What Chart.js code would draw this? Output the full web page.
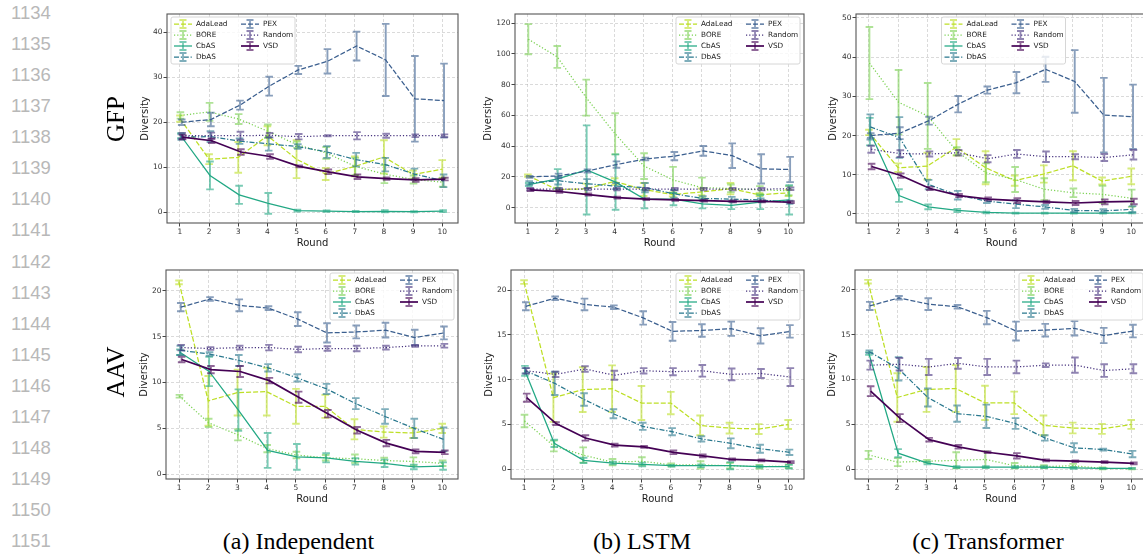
<!DOCTYPE html>
<html>
<head>
<meta charset="utf-8">
<script src="https://cdn.jsdelivr.net/npm/chart.js@4.4.1/dist/chart.umd.min.js"></script>
<style>
  body { margin: 0; background: #fff; }
  #fig { position: relative; width: 1143px; height: 558px; overflow: hidden; background: #fff; }
  #fig canvas { position: absolute; }
  .lineno { position: absolute; left: 11px; font: 18.5px "Liberation Sans", Arial, sans-serif; color: #b8b8b8; line-height: 20px; }
  .rowlab { position: absolute; font: 25px "Liberation Serif", "Times New Roman", serif; color: #000;
            line-height: 28px; white-space: nowrap; transform: translate(-50%, -50%) rotate(-90deg); }
  .cap { position: absolute; font: 24px "Liberation Serif", "Times New Roman", serif; color: #000;
         line-height: 28px; white-space: nowrap; transform: translate(-50%, -50%); }
</style>
</head>
<body>
<div id="fig"></div>
<script>
// ------------------------------------------------------------------
// Data: mean diversity and std per round, per method
// ------------------------------------------------------------------
const ROUNDS = [1, 2, 3, 4, 5, 6, 7, 8, 9, 10];
const METHODS = ["AdaLead", "BORE", "CbAS", "DbAS", "PEX", "Random", "VSD"];

// AdaLead and PEX do not depend on the generator, same curves in every column
const adaleadGfpMean = [20.8, 11.8, 12.2, 17.0, 11.8, 8.5, 10.2, 12.3, 8.4, 9.6];
const adaleadGfpStd  = [0.7, 1.1, 3.4, 2.1, 4.2, 1.3, 2.2, 3.7, 0.9, 2.0];
const pexGfpMean     = [20.0, 20.6, 23.8, 28.0, 31.6, 33.5, 36.9, 33.8, 25.2, 24.8];
const pexGfpStd      = [0.6, 1.5, 1.0, 2.1, 0.9, 2.7, 3.2, 8.0, 9.5, 8.2];
const adaleadAavMean = [20.9, 8.0, 8.9, 9.0, 7.4, 7.4, 4.9, 4.6, 4.5, 5.0];
const adaleadAavStd  = [0.2, 2.7, 2.5, 2.6, 1.9, 1.25, 1.1, 0.6, 0.55, 0.5];
const pexAavMean     = [18.2, 19.1, 18.4, 18.1, 16.9, 15.4, 15.5, 15.7, 14.9, 15.4];
const pexAavStd      = [0.45, 0.2, 0.65, 0.2, 0.75, 1.05, 0.7, 0.8, 0.85, 0.7];

// GFP, independent generator
const boreGfpIndMean   = [21.5, 22.3, 20.7, 18.0, 15.0, 13.2, 10.2, 8.5, 7.3, 6.7];
const boreGfpIndStd    = [0.7, 2.0, 1.1, 1.5, 0.7, 1.3, 1.9, 2.0, 0.9, 1.0];
const cbasGfpIndMean   = [17.0, 8.2, 3.9, 2.0, 0.4, 0.3, 0.2, 0.25, 0.15, 0.3];
const cbasGfpIndStd    = [0.55, 3.1, 2.0, 2.3, 0.2, 0.15, 0.1, 0.25, 0.1, 0.2];
const dbasGfpIndMean   = [16.7, 16.8, 15.8, 15.2, 14.6, 13.4, 11.7, 10.6, 8.5, 7.0];
const dbasGfpIndStd    = [0.6, 1.2, 0.6, 1.5, 0.5, 1.3, 1.5, 1.5, 1.2, 1.4];
const randomGfpIndMean = [17.0, 17.0, 17.0, 17.1, 16.8, 17.0, 17.0, 17.0, 17.0, 17.0];
const randomGfpIndStd  = [0.6, 0.7, 0.9, 0.5, 0.6, 0.1, 0.8, 0.45, 0.3, 0.3];
const vsdGfpIndMean    = [16.7, 15.9, 13.4, 12.4, 10.2, 9.0, 7.9, 7.5, 7.2, 7.4];
const vsdGfpIndStd     = [0.5, 0.5, 0.6, 0.5, 0.2, 0.5, 0.5, 0.25, 0.4, 0.3];

// GFP, LSTM generator
const boreGfpLstmMean   = [109.5, 98.0, 71.5, 48.0, 27.0, 18.0, 13.0, 12.5, 11.5, 11.0];
const boreGfpLstmStd    = [9.8, 7.1, 11.7, 13.4, 8.4, 8.5, 6.5, 2.5, 2.5, 3.0];
const cbasGfpLstmMean   = [15.0, 18.7, 24.5, 16.6, 5.5, 5.5, 2.5, 1.5, 3.5, 5.0];
const cbasGfpLstmStd    = [1.0, 6.3, 29.0, 18.0, 6.0, 4.0, 3.0, 2.5, 4.5, 9.5];
const dbasGfpLstmMean   = [16.0, 17.5, 15.5, 14.0, 13.0, 9.0, 6.0, 5.5, 5.0, 3.5];
const dbasGfpLstmStd    = [1.2, 2.5, 3.0, 2.0, 3.0, 2.5, 1.5, 1.5, 1.0, 1.0];
const randomGfpLstmMean = [12.0, 12.0, 12.0, 12.0, 12.0, 12.0, 12.0, 12.0, 12.0, 12.3];
const randomGfpLstmStd  = [0.8, 0.8, 0.8, 0.8, 0.8, 0.8, 0.8, 0.8, 0.8, 0.8];
const vsdGfpLstmMean    = [11.5, 10.5, 8.5, 6.5, 5.5, 5.0, 4.5, 4.0, 4.0, 3.5];
const vsdGfpLstmStd     = [0.8, 0.8, 0.7, 0.6, 0.6, 0.6, 0.6, 0.6, 0.6, 0.6];

// GFP, transformer generator
const boreGfpTrfMean   = [38.5, 28.5, 25.0, 16.0, 10.5, 8.8, 6.3, 5.4, 5.0, 4.0];
const boreGfpTrfStd    = [9.2, 8.2, 8.4, 1.0, 2.4, 3.2, 2.8, 1.1, 2.2, 2.2];
const cbasGfpTrfMean   = [21.0, 4.7, 1.8, 0.9, 0.4, 0.2, 0.2, 0.2, 0.2, 0.3];
const cbasGfpTrfStd    = [3.5, 1.6, 0.6, 0.4, 0.2, 0.1, 0.1, 0.1, 0.1, 0.15];
const dbasGfpTrfMean   = [22.2, 19.5, 7.5, 4.8, 3.3, 2.5, 1.8, 0.9, 0.8, 1.2];
const dbasGfpTrfStd    = [3.2, 5.2, 1.2, 1.1, 0.5, 1.0, 0.5, 0.4, 0.4, 0.8];
const randomGfpTrfMean = [16.5, 15.4, 15.3, 15.6, 14.1, 15.3, 14.6, 14.6, 14.4, 15.1];
const randomGfpTrfStd  = [0.9, 0.85, 0.65, 0.7, 0.9, 1.0, 1.35, 0.65, 0.9, 1.2];
const vsdGfpTrfMean    = [12.1, 9.8, 6.5, 4.7, 3.8, 3.4, 3.1, 2.8, 3.1, 3.2];
const vsdGfpTrfStd     = [0.7, 0.55, 0.4, 0.4, 0.4, 0.6, 0.3, 0.5, 0.6, 0.7];

// AAV, independent generator
const boreAavIndMean   = [8.5, 5.6, 4.3, 2.8, 2.1, 1.8, 1.7, 1.5, 1.4, 1.2];
const boreAavIndStd    = [0.15, 0.45, 0.6, 0.4, 0.35, 0.3, 0.45, 0.3, 0.45, 0.3];
const cbasAavIndMean   = [13.3, 11.2, 7.0, 2.6, 1.9, 1.8, 1.4, 1.2, 0.8, 0.9];
const cbasAavIndStd    = [0.3, 1.6, 2.25, 1.9, 1.4, 0.5, 0.35, 0.4, 0.25, 0.4];
const dbasAavIndMean   = [13.5, 13.1, 12.4, 11.6, 10.5, 9.3, 7.7, 6.3, 5.0, 3.8];
const dbasAavIndStd    = [0.5, 0.2, 0.6, 0.4, 0.4, 0.55, 0.6, 0.8, 1.05, 1.3];
const randomAavIndMean = [13.8, 13.7, 13.8, 13.8, 13.6, 13.7, 13.7, 13.8, 14.0, 14.0];
const randomAavIndStd  = [0.3, 0.15, 0.2, 0.3, 0.3, 0.25, 0.3, 0.2, 0.1, 0.2];
const vsdAavIndMean    = [12.5, 11.4, 11.2, 10.2, 8.4, 6.6, 4.8, 3.4, 2.5, 2.4];
const vsdAavIndStd     = [0.3, 0.4, 0.6, 0.3, 0.6, 0.4, 0.35, 0.35, 0.2, 0.2];

// AAV, LSTM generator
const boreAavLstmMean   = [5.4, 2.6, 1.6, 0.8, 0.9, 0.5, 0.5, 0.4, 0.3, 0.35];
const boreAavLstmStd    = [0.7, 0.6, 0.85, 0.35, 0.45, 0.15, 0.4, 0.3, 0.2, 0.2];
const cbasAavLstmMean   = [11.0, 2.9, 1.0, 0.7, 0.55, 0.4, 0.4, 0.4, 0.3, 0.3];
const cbasAavLstmStd    = [0.55, 0.4, 0.3, 0.15, 0.2, 0.1, 0.15, 0.4, 0.1, 0.2];
const dbasAavLstmMean   = [11.0, 9.6, 7.8, 6.2, 4.8, 4.2, 3.4, 2.9, 2.3, 1.9];
const dbasAavLstmStd    = [0.3, 1.3, 0.7, 0.5, 0.4, 0.4, 0.3, 0.55, 0.45, 0.3];
const randomAavLstmMean = [11.0, 10.6, 11.2, 10.5, 11.0, 10.9, 11.0, 10.6, 10.7, 10.3];
const randomAavLstmStd  = [0.3, 0.3, 0.3, 0.5, 0.3, 0.4, 0.65, 0.65, 0.5, 1.0];
const vsdAavLstmMean    = [8.0, 5.1, 3.5, 2.7, 2.5, 1.9, 1.5, 1.1, 1.0, 0.8];
const vsdAavLstmStd     = [0.45, 0.15, 0.3, 0.15, 0.1, 0.2, 0.15, 0.1, 0.1, 0.1];

// AAV, transformer generator
const boreAavTrfMean   = [1.6, 0.8, 0.9, 1.0, 1.1, 0.4, 0.3, 0.4, 0.1, 0.05];
const boreAavTrfStd    = [0.45, 0.45, 0.15, 0.9, 0.9, 0.3, 0.15, 0.2, 0.1, 0.05];
const cbasAavTrfMean   = [12.9, 1.8, 0.7, 0.25, 0.25, 0.25, 0.25, 0.15, 0.1, 0.1];
const cbasAavTrfStd    = [0.15, 0.45, 0.15, 0.1, 0.1, 0.1, 0.1, 0.1, 0.05, 0.05];
const dbasAavTrfMean   = [13.1, 11.2, 8.0, 6.2, 5.9, 5.1, 3.5, 2.4, 2.2, 1.7];
const dbasAavTrfStd    = [0.15, 1.3, 1.0, 0.9, 1.3, 0.6, 0.3, 0.5, 0.1, 0.35];
const randomAavTrfMean = [11.6, 11.7, 11.4, 11.8, 11.4, 11.4, 11.6, 11.6, 11.0, 11.2];
const randomAavTrfStd  = [0.5, 0.7, 0.9, 0.6, 0.9, 0.7, 0.2, 0.85, 0.7, 0.5];
const vsdAavTrfMean    = [8.7, 5.7, 3.3, 2.5, 1.9, 1.5, 1.0, 0.9, 0.8, 0.65];
const vsdAavTrfStd     = [0.55, 0.45, 0.2, 0.2, 0.1, 0.3, 0.1, 0.1, 0.1, 0.1];

// y tick labels
const gfpIndTicks  = [0, 10, 20, 30, 40];
const gfpLstmTicks = [0, 20, 40, 60, 80, 100, 120];
const gfpTrfTicks  = [0, 10, 20, 30, 40, 50];
const aavTicks     = [0, 5, 10, 15, 20];

// ------------------------------------------------------------------
// Styles
// ------------------------------------------------------------------
const COLORS = ["#bddf26", "#7ad151", "#22a884", "#2a788e", "#3b5f8f", "#46327e", "#440154"];
const DASHES = [[5, 2], [1.2, 2], [], [5, 1.8, 1.2, 1.8], [5, 2], [1.2, 2], []];
const WIDTHS = [1.25, 1.25, 1.25, 1.25, 1.25, 1.25, 1.7];
const FONT = "'DejaVu Sans', Verdana, sans-serif";
const SHIFT = 0.015;       // small dodge so error bars do not sit on top of each other
const AXW = 44, AXH = 30, PT = 6, PR = 4;

const PANELS = [
  { frame: [167, 14, 458, 223], yMin: -2.35, yMax: 44, yTicks: gfpIndTicks, gap: 21.7, legend: "left",
    means: [adaleadGfpMean, boreGfpIndMean, cbasGfpIndMean, dbasGfpIndMean, pexGfpMean, randomGfpIndMean, vsdGfpIndMean],
    stds:  [adaleadGfpStd, boreGfpIndStd, cbasGfpIndStd, dbasGfpIndStd, pexGfpStd, randomGfpIndStd, vsdGfpIndStd] },
  { frame: [515, 14, 804, 223], yMin: -10, yMax: 125.9, yTicks: gfpLstmTicks, gap: 26.3, legend: "right",
    means: [adaleadGfpMean, boreGfpLstmMean, cbasGfpLstmMean, dbasGfpLstmMean, pexGfpMean, randomGfpLstmMean, vsdGfpLstmMean],
    stds:  [adaleadGfpStd, boreGfpLstmStd, cbasGfpLstmStd, dbasGfpLstmStd, pexGfpStd, randomGfpLstmStd, vsdGfpLstmStd] },
  { frame: [856, 14, 1147, 223], yMin: -2.3, yMax: 51, yTicks: gfpTrfTicks, gap: 22.4, legend: "center",
    means: [adaleadGfpMean, boreGfpTrfMean, cbasGfpTrfMean, dbasGfpTrfMean, pexGfpMean, randomGfpTrfMean, vsdGfpTrfMean],
    stds:  [adaleadGfpStd, boreGfpTrfStd, cbasGfpTrfStd, dbasGfpTrfStd, pexGfpStd, randomGfpTrfStd, vsdGfpTrfStd] },
  { frame: [166, 270, 458, 479], yMin: -0.51, yMax: 22.25, yTicks: aavTicks, gap: 21.7, legend: "right",
    means: [adaleadAavMean, boreAavIndMean, cbasAavIndMean, dbasAavIndMean, pexAavMean, randomAavIndMean, vsdAavIndMean],
    stds:  [adaleadAavStd, boreAavIndStd, cbasAavIndStd, dbasAavIndStd, pexAavStd, randomAavIndStd, vsdAavIndStd] },
  { frame: [511, 270, 804, 479], yMin: -1.08, yMax: 22.25, yTicks: aavTicks, gap: 21.7, legend: "right",
    means: [adaleadAavMean, boreAavLstmMean, cbasAavLstmMean, dbasAavLstmMean, pexAavMean, randomAavLstmMean, vsdAavLstmMean],
    stds:  [adaleadAavStd, boreAavLstmStd, cbasAavLstmStd, dbasAavLstmStd, pexAavStd, randomAavLstmStd, vsdAavLstmStd] },
  { frame: [855, 270, 1147, 479], yMin: -1.08, yMax: 22.2, yTicks: aavTicks, gap: 22.7, legend: "right",
    means: [adaleadAavMean, boreAavTrfMean, cbasAavTrfMean, dbasAavTrfMean, pexAavMean, randomAavTrfMean, vsdAavTrfMean],
    stds:  [adaleadAavStd, boreAavTrfStd, cbasAavTrfStd, dbasAavTrfStd, pexAavStd, randomAavTrfStd, vsdAavTrfStd] },
];

// ------------------------------------------------------------------
// Plugins: error bars, axes frame, two-column legend
// ------------------------------------------------------------------
const errorBars = {
  id: "errorBars",
  afterDatasetDraw(chart, args) {
    const ds = chart.data.datasets[args.index];
    if (!ds.errors) return;
    const { ctx, chartArea: a } = chart;
    const xs = chart.scales.x, ys = chart.scales.y;
    const cap = 3.8;
    ctx.save();
    ctx.beginPath();
    ctx.rect(a.left, a.top, a.width, a.height);
    ctx.clip();
    ctx.globalAlpha = 0.6;
    ctx.strokeStyle = ds.borderColor;
    ctx.lineWidth = 1.9;
    ctx.setLineDash([]);
    ctx.beginPath();
    ds.data.forEach((p, i) => {
      const px = xs.getPixelForValue(p.x);
      const hi = ys.getPixelForValue(p.y + ds.errors[i]);
      const lo = ys.getPixelForValue(p.y - ds.errors[i]);
      ctx.moveTo(px, hi); ctx.lineTo(px, lo);
      ctx.moveTo(px - cap, hi); ctx.lineTo(px + cap, hi);
      ctx.moveTo(px - cap, lo); ctx.lineTo(px + cap, lo);
    });
    ctx.stroke();
    ctx.restore();
  },
};

const frameBox = {
  id: "frameBox",
  afterDatasetsDraw(chart) {
    const { ctx, chartArea: a } = chart;
    ctx.save();
    ctx.strokeStyle = "#555";
    ctx.lineWidth = 1.1;
    ctx.setLineDash([]);
    ctx.strokeRect(a.left, a.top, a.width, a.height);
    ctx.restore();
  },
};

const miniLegend = {
  id: "miniLegend",
  afterDraw(chart, args, opts) {
    const { ctx, chartArea: a } = chart;
    const W = 124, H = 47, ROW = 11, HANDLE = 18;
    let x0;
    if (opts.align === "left") x0 = a.left + 4;
    else if (opts.align === "center") x0 = (a.left + a.right - W) / 2 + 2;
    else x0 = a.right - 4 - W;
    const y0 = a.top + 3;
    ctx.save();
    ctx.fillStyle = "rgba(255,255,255,0.8)";
    ctx.strokeStyle = "#d6d6d6";
    ctx.lineWidth = 1;
    ctx.beginPath();
    ctx.roundRect(x0, y0, W, H, 2);
    ctx.fill();
    ctx.stroke();
    ctx.font = `7.3px ${FONT}`;
    ctx.textBaseline = "middle";
    METHODS.forEach((name, i) => {
      const col = i < 4 ? 0 : 1;
      const row = i < 4 ? i : i - 4;
      const hx = x0 + (col === 0 ? 3 : 70);
      const hy = y0 + 7 + row * ROW;
      ctx.globalAlpha = 1;
      ctx.strokeStyle = COLORS[i];
      ctx.lineWidth = WIDTHS[i];
      ctx.setLineDash(DASHES[i]);
      ctx.beginPath();
      ctx.moveTo(hx, hy);
      ctx.lineTo(hx + HANDLE, hy);
      ctx.stroke();
      ctx.setLineDash([]);
      ctx.globalAlpha = 0.6;
      ctx.lineWidth = 1.8;
      const cx = hx + HANDLE / 2;
      ctx.beginPath();
      ctx.moveTo(cx, hy - 4); ctx.lineTo(cx, hy + 4);
      ctx.moveTo(cx - 3.5, hy - 4); ctx.lineTo(cx + 3.5, hy - 4);
      ctx.moveTo(cx - 3.5, hy + 4); ctx.lineTo(cx + 3.5, hy + 4);
      ctx.stroke();
      ctx.globalAlpha = 1;
      ctx.fillStyle = "#222";
      ctx.fillText(name, hx + HANDLE + 4, hy);
    });
    ctx.restore();
  },
};

// ------------------------------------------------------------------
// Build
// ------------------------------------------------------------------
const fig = document.getElementById("fig");

function axisStyle() {
  return {
    grid: { color: "rgba(170,170,170,0.55)", lineWidth: 0.8, tickLength: 3.5, tickColor: "#444", tickWidth: 1, tickBorderDash: [] },
    border: { display: false, dash: [3, 2] },
  };
}

function buildPanel(p) {
  const [L, T, R, B] = p.frame;
  const w = (R - L) + AXW + PR;
  const h = (B - T) + PT + AXH;
  const canvas = document.createElement("canvas");
  canvas.width = w;
  canvas.height = h;
  canvas.style.left = (L - AXW) + "px";
  canvas.style.top = (T - PT) + "px";
  canvas.style.width = w + "px";
  canvas.style.height = h + "px";
  fig.appendChild(canvas);

  const datasets = METHODS.map((name, i) => ({
    label: name,
    data: ROUNDS.map((r, k) => ({ x: r + i * SHIFT, y: p.means[i][k] })),
    errors: p.stds[i],
    borderColor: COLORS[i],
    backgroundColor: COLORS[i],
    borderWidth: WIDTHS[i],
    borderDash: DASHES[i],
    pointRadius: 0,
    tension: 0,
    fill: false,
    order: METHODS.length - 1 - i,
  }));

  new Chart(canvas, {
    type: "line",
    data: { datasets },
    options: {
      responsive: false,
      animation: false,
      devicePixelRatio: 1,
      layout: { padding: { left: 0, top: PT, right: PR, bottom: 0 } },
      plugins: {
        legend: { display: false },
        tooltip: { enabled: false },
        miniLegend: { align: p.legend },
      },
      scales: {
        x: {
          type: "linear",
          bounds: "data",
          min: 0.555,
          max: 10.54,
          afterBuildTicks: (s) => { s.ticks = ROUNDS.map((v) => ({ value: v })); },
          afterFit: (s) => { s.height = AXH; },
          ticks: { font: { family: FONT, size: 7.5 }, color: "#333", padding: 1, maxRotation: 0, autoSkip: false,
                   callback: (v) => String(v) },
          title: { display: true, text: "Round", font: { family: FONT, size: 10 }, color: "#1a1a1a",
                   padding: { top: 0, bottom: 3.8 } },
          ...axisStyle(),
        },
        y: {
          type: "linear",
          bounds: "data",
          min: p.yMin,
          max: p.yMax,
          afterBuildTicks: (s) => { s.ticks = p.yTicks.map((v) => ({ value: v })); },
          afterFit: (s) => { s.width = AXW; },
          ticks: { font: { family: FONT, size: 7.5 }, color: "#333", padding: 1, callback: (v) => String(v) },
          title: { display: true, text: "Diversity", font: { family: FONT, size: 10 }, color: "#1a1a1a",
                   padding: { top: AXW - p.gap - 6, bottom: 0 } },
          ...axisStyle(),
        },
      },
    },
    plugins: [errorBars, frameBox, miniLegend],
  });
}

PANELS.forEach(buildPanel);

// Margin line numbers, row labels and sub-captions
for (let i = 0; i < 18; i++) {
  const d = document.createElement("div");
  d.className = "lineno";
  d.textContent = String(1134 + i);
  d.style.top = (12.7 + i * 31.1 - 10) + "px";
  fig.appendChild(d);
}

[["GFP", 116, 119], ["AAV", 116, 372]].forEach(([t, x, y]) => {
  const d = document.createElement("div");
  d.className = "rowlab";
  d.textContent = t;
  d.style.left = x + "px";
  d.style.top = y + "px";
  fig.appendChild(d);
});

[["(a) Independent", 298.5, 541], ["(b) LSTM", 642, 541], ["(c) Transformer", 988, 541]].forEach(([t, x, y]) => {
  const d = document.createElement("div");
  d.className = "cap";
  d.textContent = t;
  d.style.left = x + "px";
  d.style.top = y + "px";
  fig.appendChild(d);
});
</script>
</body>
</html>
